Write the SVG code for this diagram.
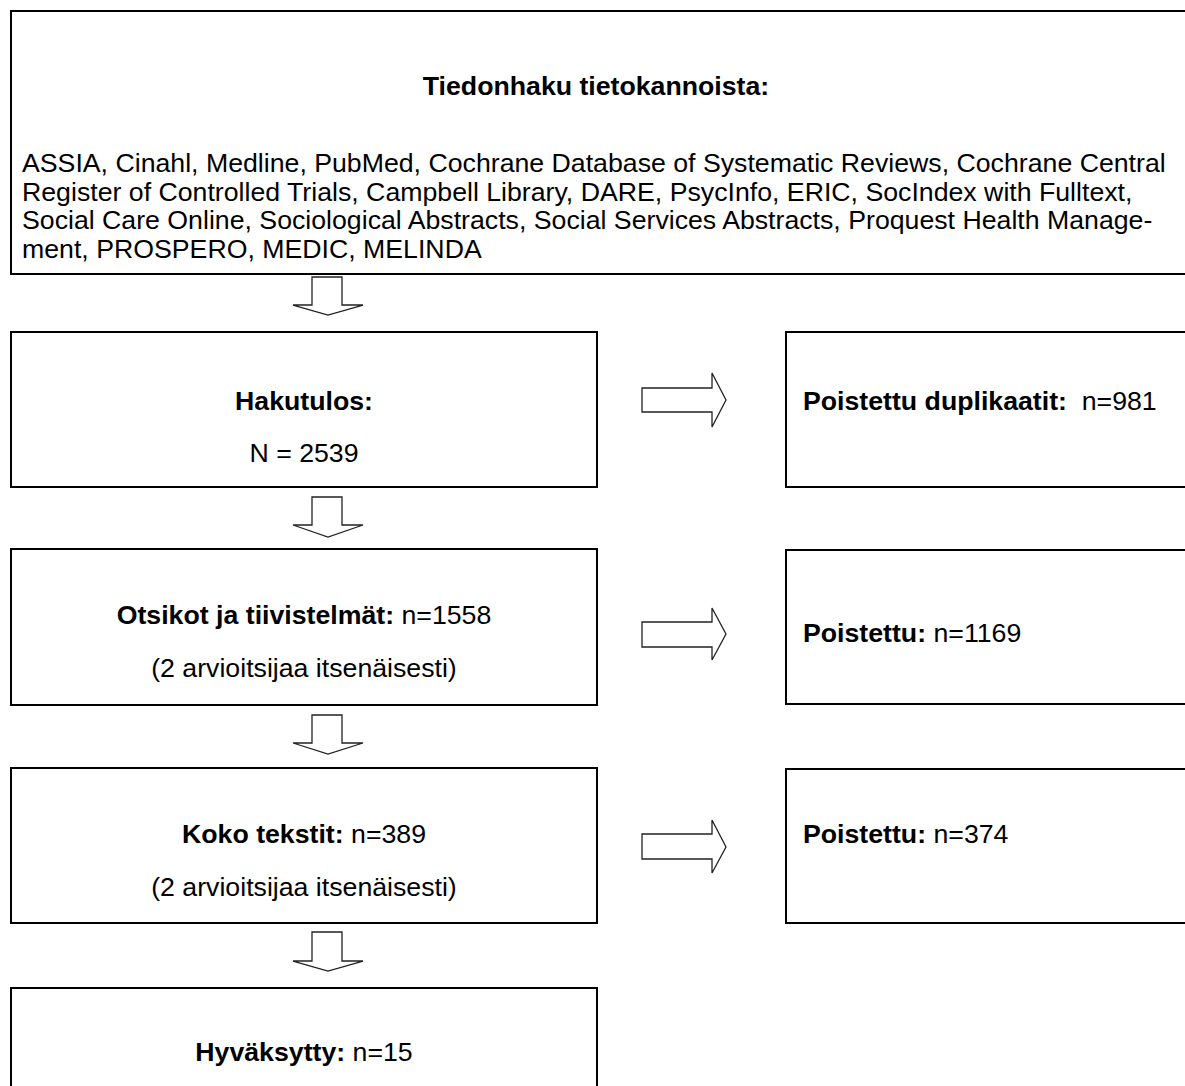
<svg xmlns="http://www.w3.org/2000/svg" width="1185" height="1086" viewBox="0 0 1185 1086">
<style>
.box{fill:#fff;stroke:#000;stroke-width:2}
.arr{fill:#fff;stroke:#222;stroke-width:1.3;stroke-linejoin:miter}
text{font-family:"Liberation Sans",Arial,sans-serif;font-size:26.7px;fill:#000}
.b{font-weight:bold}
.c{text-anchor:middle}
</style>
<rect width="1185" height="1086" fill="#fff"/>
<g id="search">
<rect class="box" x="11" y="11" width="1200" height="263"/>
<text class="b c" x="596" y="95">Tiedonhaku tietokannoista:</text>
<text x="22" y="172">ASSIA, Cinahl, Medline, PubMed, Cochrane Database of Systematic Reviews, Cochrane Central</text>
<text x="22" y="201">Register of Controlled Trials, Campbell Library, DARE, PsycInfo, ERIC, SocIndex with Fulltext,</text>
<text x="22" y="229">Social Care Online, Sociological Abstracts, Social Services Abstracts, Proquest Health Manage-</text>
<text x="22" y="258">ment, PROSPERO, MEDIC, MELINDA</text>
</g>
<g id="hakutulos">
<rect class="box" x="11" y="332" width="586" height="155"/>
<text class="b c" x="304" y="410">Hakutulos:</text>
<text class="c" x="304" y="462">N = 2539</text>
</g>
<g id="duplikaatit">
<rect class="box" x="786" y="332" width="420" height="155"/>
<text x="803" y="410" xml:space="preserve"><tspan class="b">Poistettu duplikaatit:</tspan>  n=981</text>
</g>
<g id="otsikot">
<rect class="box" x="11" y="549" width="586" height="156"/>
<text class="c" x="304" y="624"><tspan class="b">Otsikot ja tiivistelmät:</tspan> n=1558</text>
<text class="c" x="304" y="677">(2 arvioitsijaa itsenäisesti)</text>
</g>
<g id="poistettu1">
<rect class="box" x="786" y="550" width="420" height="154"/>
<text x="803" y="642"><tspan class="b">Poistettu:</tspan> n=1169</text>
</g>
<g id="koko">
<rect class="box" x="11" y="768" width="586" height="155"/>
<text class="c" x="304" y="843"><tspan class="b">Koko tekstit:</tspan> n=389</text>
<text class="c" x="304" y="896">(2 arvioitsijaa itsenäisesti)</text>
</g>
<g id="poistettu2">
<rect class="box" x="786" y="769" width="420" height="154"/>
<text x="803" y="843"><tspan class="b">Poistettu:</tspan> n=374</text>
</g>
<g id="hyvaksytty">
<rect class="box" x="11" y="988" width="586" height="120"/>
<text class="c" x="304" y="1061"><tspan class="b">Hyväksytty:</tspan> n=15</text>
</g>
<g id="connectors">
<polygon class="arr" points="312,277 342,277 342,305 363,305 328,315 293,305 312,305"/>
<polygon class="arr" points="312,497 342,497 342,525 363,525 328,537 293,525 312,525"/>
<polygon class="arr" points="312,715 342,715 342,743 363,743 328,754 293,743 312,743"/>
<polygon class="arr" points="312,932 342,932 342,961 363,961 328,971 293,961 312,961"/>
<polygon class="arr" points="642,388 712,388 712,373 726,400 712,427 712,412 642,412"/>
<polygon class="arr" points="642,622 712,622 712,608 726,634 712,660 712,647 642,647"/>
<polygon class="arr" points="642,834 712,834 712,820 726,847 712,873 712,859 642,859"/>
</g>
</svg>
